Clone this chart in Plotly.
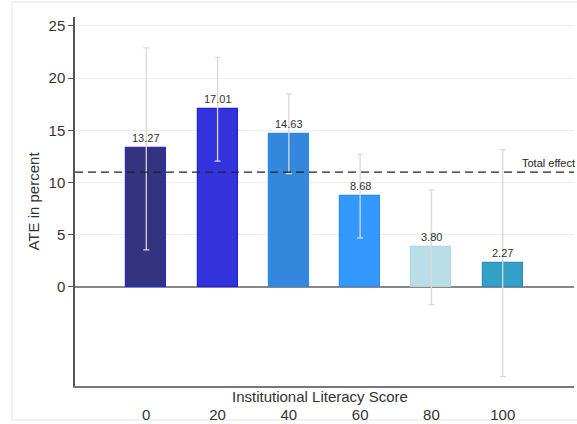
import plotly.graph_objects as go

scores = [0, 20, 40, 60, 80, 100]
ate = [13.27, 17.01, 14.63, 8.68, 3.80, 2.27]
ci_upper = [22.9, 22.0, 18.5, 12.7, 9.3, 13.15]
ci_lower = [3.55, 12.05, 10.85, 4.7, -1.7, -8.6]
total_effect = 11.0
bar_colors = ["#33337f", "#3333dd", "#3388dd", "#3399ff", "#bbdde8", "#33a0c8"]
edge_colors = ["#2a2ae6", "#2020e6", "#2a8ae8", "#2a8cf0", "#b0d6e4", "#2a90c0"]
y_ticks = [0, 5, 10, 15, 20, 25]

err_plus = [u - v for u, v in zip(ci_upper, ate)]
err_minus = [v - l for v, l in zip(ate, ci_lower)]

FONT = "Liberation Sans, Arial, sans-serif"

fig = go.Figure()
fig.add_trace(go.Bar(
    x=scores, y=ate, width=11.2,
    marker=dict(color=bar_colors, line=dict(color=edge_colors, width=1.2)),
    error_y=dict(type="data", symmetric=False, array=err_plus, arrayminus=err_minus,
                 color="#d9d9d9", thickness=1.3, width=3),
    hoverinfo="skip", showlegend=False,
))

annotations = []
for s, v in zip(scores, ate):
    annotations.append(dict(x=s, y=v, xref="x", yref="y", text=f"{v:.2f}",
                            showarrow=False, yanchor="bottom", yshift=2,
                            font=dict(family=FONT, size=11, color="#333333")))
annotations.append(dict(x=1.0, y=total_effect, xref="paper", yref="y", text="Total effect",
                        showarrow=False, xanchor="right", yanchor="bottom", yshift=1, xshift=3,
                        font=dict(family=FONT, size=11, color="#222222")))
annotations.append(dict(x=0.49, y=-0.0, xref="paper", yref="paper", text="Institutional Literacy Score",
                        showarrow=False, xanchor="center", yanchor="top",
                        font=dict(family=FONT, size=15, color="#333333")))

shapes = [
    dict(type="line", xref="paper", yref="y", x0=0, x1=1, y0=total_effect, y1=total_effect,
         line=dict(color="#222222", width=1.3, dash="8px,5px")),
    dict(type="rect", xref="paper", yref="paper",
         x0=(12 - 75) / 499, x1=(582 - 75) / 499, y0=(386 - 420) / 369, y1=1 + 15 / 369,
         line=dict(color="#eeeeee", width=1.5), layer="below"),
]

fig.update_layout(
    width=577, height=424,
    margin=dict(l=75, r=3, t=17, b=38, autoexpand=False),
    paper_bgcolor="white", plot_bgcolor="white",
    font=dict(family=FONT, color="#333333"),
    annotations=annotations, shapes=shapes, bargap=0,
)
fig.update_xaxes(
    range=[-20, 120], tickvals=scores, ticktext=[str(s) for s in scores],
    showgrid=False, zeroline=False, showline=True, linecolor="#777777", linewidth=1.5,
    ticks="", ticklabelstandoff=14, tickfont=dict(family=FONT, size=15, color="#333333"), automargin=False,
)
fig.update_yaxes(
    range=[-9.5, 25.86], tickvals=y_ticks, ticktext=[str(t) for t in y_ticks],
    showgrid=True, gridcolor="#eeeeee", gridwidth=1,
    zeroline=True, zerolinecolor="#888888", zerolinewidth=1.5,
    showline=True, linecolor="#555555", linewidth=1.5,
    ticks="outside", ticklen=5, tickcolor="#555555", tickfont=dict(family=FONT, size=15, color="#333333"),
    title=dict(text="ATE in percent", font=dict(family=FONT, size=15, color="#333333"), standoff=5),
    automargin=False,
)

fig.write_html("out.html", config={"displayModeBar": False},
               post_script="document.body.style.margin='0';document.body.style.overflow='hidden';")
